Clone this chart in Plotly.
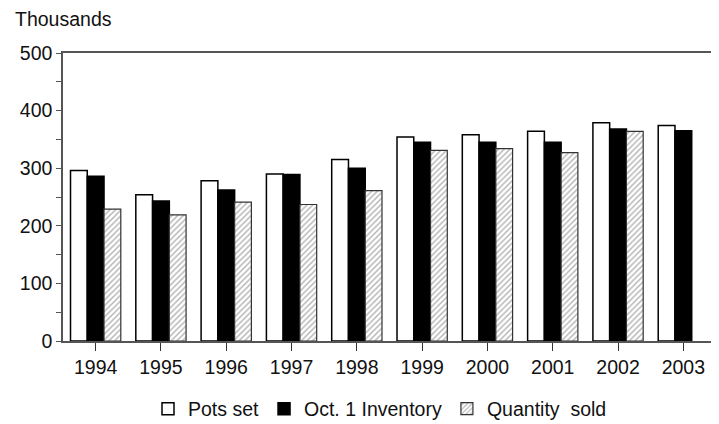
import plotly.graph_objects as go

years = ["1994", "1995", "1996", "1997", "1998", "1999", "2000", "2001", "2002", "2003"]
pots_set = [296, 254, 278, 290, 315, 354, 358, 364, 379, 374]
oct1_inventory = [286, 243, 262, 289, 300, 345, 345, 345, 368, 365]
quantity_sold = [229, 219, 241, 237, 261, 331, 334, 327, 364, None]

FONT = "Liberation Sans, Arial, sans-serif"
FS = 19.5

# page body adds an 8px offset; size the figure so the plot lands where the reference has it
W, H = 711, 416
L, R, T, B = 55, 3, 45, 83
PW, PH = W - L - R, H - T - B

fig = go.Figure()
fig.add_trace(go.Bar(
    x=years, y=pots_set, name="Pots set",
    marker=dict(color="white", line=dict(color="black", width=1.5)),
))
fig.add_trace(go.Bar(
    x=years, y=oct1_inventory, name="Oct. 1 Inventory",
    marker=dict(color="black", line=dict(color="black", width=1.5)),
))
fig.add_trace(go.Bar(
    x=years, y=quantity_sold, name="Quantity\u00a0 sold",
    marker=dict(color="white", line=dict(color="#333333", width=1.2),
                pattern=dict(shape="/", fgcolor="#666666", bgcolor="white",
                             size=4, solidity=0.35)),
))

fig.update_layout(
    width=W, height=H,
    margin=dict(l=L, r=R, t=T, b=B, autoexpand=False),
    paper_bgcolor="white", plot_bgcolor="white",
    barmode="group", bargap=0.23, bargroupgap=0,
    font=dict(family=FONT, size=FS, color="#111111"),
    showlegend=True,
    legend=dict(orientation="h", x=(380 - 8 - L) / PW, xanchor="center",
                y=-68 / PH, yanchor="middle",
                font=dict(size=FS), traceorder="normal"),
    xaxis=dict(
        type="category", range=[-0.5, 9.5],
        showline=True, linecolor="#555555", linewidth=1.5, mirror=True,
        ticks="outside", ticklen=8, tickcolor="#333333", tickwidth=1.2,
        showgrid=False, zeroline=False,
        tickfont=dict(size=FS),
    ),
    yaxis=dict(
        range=[0, 500], tickvals=[0, 100, 200, 300, 400, 500],
        showline=True, linecolor="#555555", linewidth=1.5, mirror=True,
        ticks="outside", ticklen=5, tickcolor="#555555", tickwidth=1.2,
        minor=dict(dtick=50, ticks="outside", ticklen=5, tickcolor="#555555", showgrid=False),
        showgrid=False, zeroline=False,
        tickfont=dict(size=FS),
    ),
    annotations=[dict(
        text="Thousands", xref="paper", yref="paper",
        x=(13 - 8 - L) / PW, y=1 + 34 / PH, xanchor="left", yanchor="middle",
        showarrow=False, font=dict(size=FS),
    )],
)

fig.write_html("out.html")
